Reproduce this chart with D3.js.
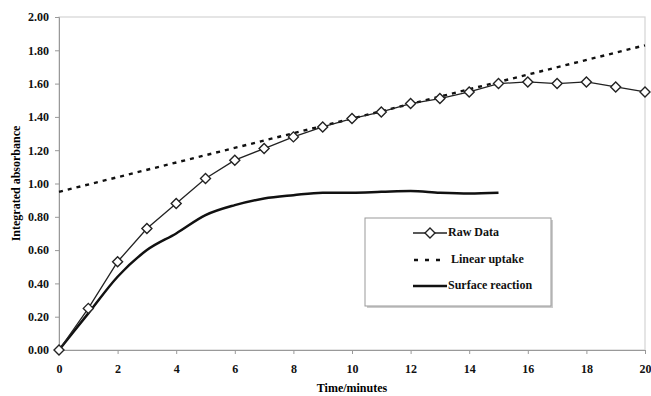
<!DOCTYPE html>
<html><head><meta charset="utf-8">
<script src="https://cdn.jsdelivr.net/npm/d3@7"></script>
<style>body{margin:0;background:#fff}svg text{font-family:"Liberation Serif","Times New Roman","DejaVu Serif",serif;font-weight:bold}</style>
</head><body><svg id="c" width="651" height="396" font-family="Liberation Serif" font-weight="bold"></svg>
<script>
const rawTime = [0,1,2,3,4,5,6,7,8,9,10,11,12,13,14,15,16,17,18,19,20];
const rawValues = [0.00,0.25,0.53,0.73,0.88,1.03,1.14,1.21,1.28,1.34,1.39,1.43,1.48,1.51,1.55,1.60,1.61,1.60,1.61,1.58,1.55];
const linearTime = [0,20];
const linearValues = [0.95,1.83];
const surfaceTime = [0,1,2,3,4,5,6,7,8,9,10,11,12,13,14,15];
const surfaceValues = [0.00,0.22,0.44,0.60,0.70,0.81,0.87,0.91,0.93,0.945,0.945,0.95,0.955,0.945,0.94,0.945];
const xTicks = [0,2,4,6,8,10,12,14,16,18,20];
const yTicks = [0,0.2,0.4,0.6,0.8,1.0,1.2,1.4,1.6,1.8,2.0];
const seriesNames = ["Raw Data","Linear uptake","Surface reaction"];

const FONT = "'Liberation Serif','Times New Roman',serif";
const svg = d3.select("#c");
const L=59,R=645,T=17,B=350;
const x = d3.scaleLinear().domain([0,20]).range([L,R]);
const y = d3.scaleLinear().domain([0,2]).range([B,T]);

svg.append("rect").attr("x",L).attr("y",T).attr("width",R-L).attr("height",B-T)
  .attr("fill","none").attr("stroke","#d4d4d4").attr("stroke-width",1.2);

const xa = svg.append("g").attr("transform",`translate(0,${B})`)
  .call(d3.axisBottom(x).tickValues(xTicks).tickFormat(d3.format("d")).tickSize(4).tickPadding(10));
const ya = svg.append("g").attr("transform",`translate(${L},0)`)
  .call(d3.axisLeft(y).tickValues(yTicks).tickFormat(d3.format(".2f")).tickSize(4).tickPadding(6));
[xa,ya].forEach(a=>{a.attr("font-family",FONT).attr("font-weight","bold");
  a.select(".domain").attr("stroke","#999");a.selectAll(".tick line").attr("stroke","#999");
  a.selectAll("text").attr("font-size",12).attr("fill","#111");});

svg.append("text").attr("x",(L+R)/2).attr("y",392).attr("text-anchor","middle").attr("font-family",FONT).attr("font-size",12).text("Time/minutes");
svg.append("text").attr("transform",`translate(17,${(T+B)/2}) rotate(-90)`).attr("text-anchor","middle")
  .attr("dominant-baseline","middle").attr("font-family",FONT).attr("font-size",12).text("Integrated absorbance");

const line = d3.line().x(d=>x(d[0])).y(d=>y(d[1]));
svg.append("path").datum(linearTime.map((t,i)=>[t,linearValues[i]])).attr("d",line)
  .attr("fill","none").attr("stroke","#111").attr("stroke-width",2.4).attr("stroke-dasharray","4,5");
svg.append("path").datum(surfaceTime.map((t,i)=>[t,surfaceValues[i]])).attr("d",line.curve(d3.curveMonotoneX))
  .attr("fill","none").attr("stroke","#111").attr("stroke-width",2.5);
const rawLine = d3.line().x(d=>x(d[0])).y(d=>y(d[1]));
const rawData = rawTime.map((t,i)=>[t,rawValues[i]]);
svg.append("path").datum(rawData).attr("d",rawLine).attr("fill","none").attr("stroke","#222").attr("stroke-width",1.3);
const dia = "M0,-5L5,0L0,5L-5,0Z";
svg.selectAll(".pt").data(rawData).join("path").attr("class","pt")
  .attr("transform",d=>`translate(${x(d[0])},${y(d[1])})`)
  .attr("d",dia).attr("fill","#fff").attr("stroke","#222").attr("stroke-width",1.4);

// legend
const lg = svg.append("g");
lg.append("rect").attr("x",367).attr("y",220).attr("width",186).attr("height",88).attr("fill","#ccc");
lg.append("rect").attr("x",365).attr("y",218).attr("width",186).attr("height",88).attr("fill","#fff").attr("stroke","#999");
const ly=[233,260,286];
lg.append("line").attr("x1",413).attr("x2",447).attr("y1",ly[0]).attr("y2",ly[0]).attr("stroke","#222").attr("stroke-width",1.3);
lg.append("path").attr("transform",`translate(430,${ly[0]})`).attr("d",dia).attr("fill","#fff").attr("stroke","#222").attr("stroke-width",1.4);
lg.append("line").attr("x1",414).attr("x2",447).attr("y1",ly[1]).attr("y2",ly[1]).attr("stroke","#111").attr("stroke-width",2.4).attr("stroke-dasharray","4,7");
lg.append("line").attr("x1",413).attr("x2",447).attr("y1",ly[2]).attr("y2",ly[2]).attr("stroke","#111").attr("stroke-width",2.5);
lg.selectAll(".lt").data(seriesNames).join("text").attr("class","lt").attr("font-family",FONT)
  .attr("x",(d,i)=>i==1?451:448).attr("y",(d,i)=>ly[i]).attr("dominant-baseline","middle").attr("font-size",12).attr("fill","#111").text(d=>d);
</script></body></html>
